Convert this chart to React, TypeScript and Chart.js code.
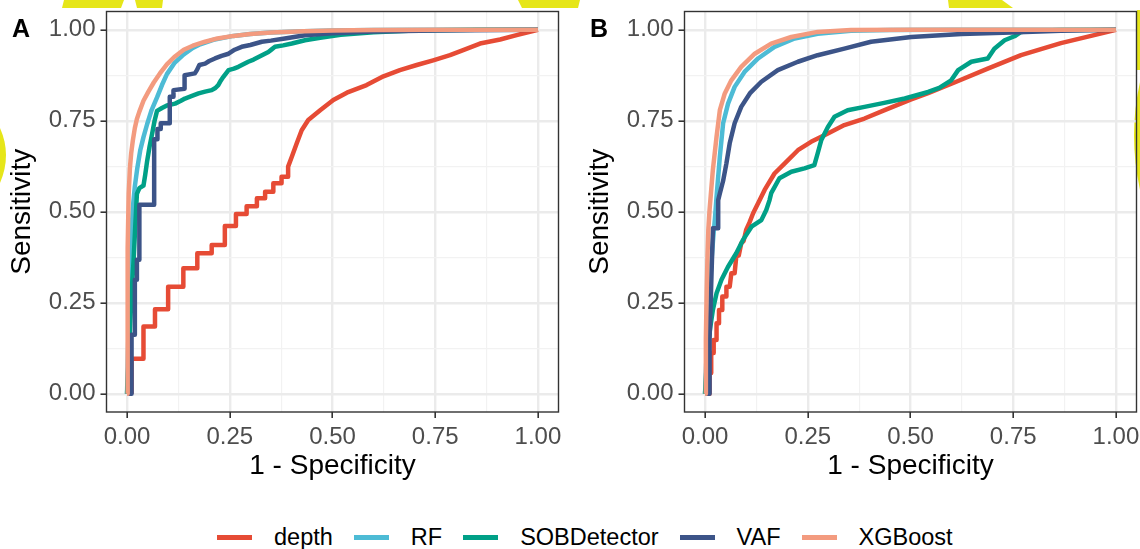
import { useEffect, useRef } from 'react';
import { Chart, registerables } from 'chart.js';

Chart.register(...registerables);

const FONT = "'Liberation Sans', Arial, Helvetica, sans-serif";

const SERIES = ['depth', 'RF', 'SOBDetector', 'VAF', 'XGBoost'];
const COLORS = ['#E64B35', '#4DBBD5', '#00A087', '#3C5488', '#F39B7F'];
const TICKS = [0, 0.25, 0.5, 0.75, 1];
const TICK_LABELS = ['0.00', '0.25', '0.50', '0.75', '1.00'];
const MINOR_TICKS = [0.125, 0.375, 0.625, 0.875];
const X_TITLE = '1 - Specificity';
const Y_TITLE = 'Sensitivity';

// ---------------- Panel A ----------------
const depthA_fpr = [0.011, 0.011, 0.040, 0.040, 0.068, 0.068, 0.100, 0.100, 0.137, 0.137, 0.171, 0.171, 0.206, 0.206, 0.238, 0.238, 0.265, 0.265, 0.291, 0.291, 0.316, 0.316, 0.336, 0.336, 0.356, 0.356, 0.376, 0.376, 0.392, 0.392, 0.401, 0.413, 0.425, 0.441, 0.470, 0.502, 0.535, 0.583, 0.624, 0.664, 0.705, 0.745, 0.786, 0.818, 0.859, 0.908, 0.948, 1.0];
const depthA_tpr = [0, 0.096, 0.096, 0.185, 0.185, 0.232, 0.232, 0.294, 0.294, 0.345, 0.345, 0.386, 0.386, 0.409, 0.409, 0.461, 0.461, 0.494, 0.494, 0.515, 0.515, 0.537, 0.537, 0.555, 0.555, 0.578, 0.578, 0.596, 0.596, 0.624, 0.651, 0.688, 0.724, 0.752, 0.779, 0.807, 0.827, 0.848, 0.872, 0.889, 0.903, 0.916, 0.930, 0.944, 0.962, 0.973, 0.985, 1.0];

const rfA_fpr = [0, 0.003, 0.006, 0.010, 0.014, 0.019, 0.025, 0.032, 0.040, 0.049, 0.060, 0.073, 0.085, 0.097, 0.115, 0.138, 0.160, 0.178, 0.210, 0.259, 0.300, 0.350, 0.430, 0.500, 0.600, 0.750, 1.0];
const rfA_tpr = [0, 0.15, 0.30, 0.42, 0.51, 0.57, 0.62, 0.668, 0.705, 0.741, 0.780, 0.814, 0.848, 0.878, 0.908, 0.932, 0.950, 0.960, 0.972, 0.983, 0.988, 0.992, 0.996, 0.998, 0.999, 1.0, 1.0];

const sobA_fpr = [0, 0.004, 0.008, 0.012, 0.016, 0.020, 0.024, 0.030, 0.040, 0.044, 0.049, 0.055, 0.061, 0.067, 0.073, 0.085, 0.097, 0.117, 0.130, 0.141, 0.158, 0.174, 0.190, 0.206, 0.215, 0.222, 0.228, 0.234, 0.247, 0.260, 0.271, 0.283, 0.295, 0.308, 0.320, 0.332, 0.344, 0.352, 0.360, 0.380, 0.401, 0.433, 0.470, 0.520, 0.600, 0.700, 0.850, 1.0];
const sobA_tpr = [0, 0.10, 0.20, 0.294, 0.367, 0.46, 0.549, 0.565, 0.572, 0.60, 0.640, 0.68, 0.714, 0.75, 0.777, 0.785, 0.792, 0.797, 0.804, 0.811, 0.818, 0.825, 0.830, 0.834, 0.840, 0.848, 0.860, 0.870, 0.889, 0.893, 0.898, 0.905, 0.912, 0.918, 0.925, 0.932, 0.939, 0.946, 0.953, 0.957, 0.962, 0.971, 0.978, 0.986, 0.993, 0.998, 1.0, 1.0];

const vafA_fpr = [0.003, 0.011, 0.011, 0.019, 0.019, 0.024, 0.024, 0.030, 0.030, 0.066, 0.066, 0.074, 0.074, 0.082, 0.082, 0.104, 0.104, 0.113, 0.113, 0.140, 0.140, 0.165, 0.170, 0.176, 0.190, 0.200, 0.214, 0.230, 0.247, 0.262, 0.279, 0.300, 0.328, 0.350, 0.384, 0.433, 0.500, 0.600, 0.750, 1.0];
const vafA_tpr = [0, 0, 0.162, 0.162, 0.313, 0.313, 0.368, 0.368, 0.519, 0.519, 0.699, 0.699, 0.727, 0.727, 0.743, 0.743, 0.816, 0.816, 0.834, 0.838, 0.875, 0.880, 0.889, 0.903, 0.907, 0.914, 0.921, 0.928, 0.934, 0.945, 0.953, 0.958, 0.967, 0.970, 0.976, 0.985, 0.990, 0.995, 0.998, 1.0];

const xgbA_fpr = [0, 0.001, 0.002, 0.004, 0.007, 0.010, 0.014, 0.019, 0.024, 0.030, 0.040, 0.052, 0.065, 0.080, 0.097, 0.115, 0.138, 0.160, 0.190, 0.220, 0.259, 0.300, 0.350, 0.430, 0.500, 0.600, 0.750, 1.0];
const xgbA_tpr = [0, 0.20, 0.40, 0.55, 0.62, 0.66, 0.695, 0.730, 0.755, 0.775, 0.805, 0.830, 0.855, 0.880, 0.905, 0.925, 0.945, 0.956, 0.967, 0.976, 0.983, 0.988, 0.992, 0.996, 0.998, 0.999, 1.0, 1.0];

// ---------------- Panel B ----------------
const depthB_fpr = [0.005, 0.011, 0.011, 0.015, 0.015, 0.021, 0.021, 0.028, 0.028, 0.034, 0.034, 0.042, 0.042, 0.052, 0.052, 0.060, 0.064, 0.072, 0.076, 0.082, 0.088, 0.094, 0.100, 0.108, 0.117, 0.133, 0.145, 0.169, 0.194, 0.226, 0.258, 0.299, 0.339, 0.388, 0.437, 0.500, 0.543, 0.607, 0.688, 0.769, 0.866, 0.947, 1.0];
const depthB_tpr = [0, 0, 0.057, 0.057, 0.112, 0.112, 0.148, 0.148, 0.194, 0.194, 0.230, 0.230, 0.267, 0.267, 0.294, 0.294, 0.331, 0.331, 0.377, 0.380, 0.413, 0.420, 0.450, 0.470, 0.496, 0.532, 0.560, 0.605, 0.633, 0.669, 0.692, 0.715, 0.738, 0.756, 0.779, 0.808, 0.826, 0.855, 0.893, 0.930, 0.963, 0.985, 1.0];

const rfB_fpr = [0, 0.004, 0.008, 0.012, 0.016, 0.020, 0.024, 0.028, 0.036, 0.044, 0.056, 0.072, 0.096, 0.129, 0.169, 0.218, 0.274, 0.355, 0.450, 0.600, 1.0];
const rfB_tpr = [0, 0.12, 0.22, 0.30, 0.37, 0.43, 0.48, 0.541, 0.651, 0.743, 0.797, 0.843, 0.884, 0.921, 0.953, 0.976, 0.989, 0.997, 0.999, 1.0, 1.0];

const sobB_fpr = [0, 0.005, 0.010, 0.015, 0.019, 0.028, 0.040, 0.056, 0.076, 0.092, 0.113, 0.137, 0.149, 0.157, 0.161, 0.181, 0.210, 0.242, 0.266, 0.274, 0.283, 0.299, 0.315, 0.347, 0.388, 0.436, 0.486, 0.543, 0.570, 0.599, 0.616, 0.648, 0.688, 0.704, 0.729, 0.753, 0.769, 0.800, 0.866, 1.0];
const sobB_tpr = [0, 0.10, 0.16, 0.20, 0.230, 0.276, 0.313, 0.349, 0.386, 0.422, 0.459, 0.477, 0.505, 0.532, 0.551, 0.592, 0.610, 0.619, 0.628, 0.660, 0.697, 0.733, 0.761, 0.779, 0.788, 0.799, 0.811, 0.829, 0.840, 0.861, 0.889, 0.912, 0.921, 0.948, 0.971, 0.982, 0.994, 0.997, 0.999, 1.0];

const vafB_fpr = [0, 0.011, 0.011, 0.015, 0.019, 0.019, 0.032, 0.032, 0.036, 0.044, 0.052, 0.060, 0.072, 0.088, 0.109, 0.137, 0.177, 0.226, 0.274, 0.339, 0.404, 0.502, 0.624, 0.745, 0.866, 1.0];
const vafB_tpr = [0, 0, 0.148, 0.30, 0.450, 0.455, 0.455, 0.532, 0.550, 0.585, 0.633, 0.688, 0.743, 0.788, 0.825, 0.857, 0.889, 0.912, 0.930, 0.948, 0.967, 0.980, 0.988, 0.992, 0.997, 1.0];

const xgbB_fpr = [0, 0.002, 0.004, 0.006, 0.008, 0.011, 0.019, 0.028, 0.036, 0.048, 0.064, 0.088, 0.121, 0.161, 0.210, 0.274, 0.355, 0.500, 1.0];
const xgbB_tpr = [0, 0.15, 0.28, 0.38, 0.45, 0.505, 0.615, 0.706, 0.779, 0.825, 0.861, 0.898, 0.934, 0.962, 0.980, 0.994, 0.999, 1.0, 1.0];

const PANEL_A_FPR = [depthA_fpr, rfA_fpr, sobA_fpr, vafA_fpr, xgbA_fpr];
const PANEL_A_TPR = [depthA_tpr, rfA_tpr, sobA_tpr, vafA_tpr, xgbA_tpr];
const PANEL_B_FPR = [depthB_fpr, rfB_fpr, sobB_fpr, vafB_fpr, xgbB_fpr];
const PANEL_B_TPR = [depthB_tpr, rfB_tpr, sobB_tpr, vafB_tpr, xgbB_tpr];

const ALL_TICKS = [...TICKS, ...MINOR_TICKS].sort((a, b) => a - b);
const majorIndex = (v: number) => TICKS.findIndex((t) => Math.abs(t - v) < 1e-9);

function axisOptions(isX: boolean) {
  return {
    type: 'linear' as const,
    min: -0.05,
    max: 1.05,
    afterBuildTicks: (scale: any) => {
      scale.ticks = ALL_TICKS.map((v) => ({ value: v }));
    },
    afterFit: (scale: any) => {
      if (isX) scale.height = 71;
      else scale.width = 106.5;
      scale.paddingTop = 0;
      scale.paddingBottom = 0;
      scale.paddingLeft = 0;
      scale.paddingRight = 0;
    },
    ticks: {
      autoSkip: false,
      maxRotation: 0,
      minRotation: 0,
      padding: 5,
      color: '#4D4D4D',
      font: { family: FONT, size: 24 },
      callback: (v: any) => {
        const i = majorIndex(Number(v));
        return i >= 0 ? TICK_LABELS[i] : '';
      },
    },
    grid: {
      color: (ctx: any) => (majorIndex(ctx.tick?.value) >= 0 ? '#EBEBEB' : '#F2F2F2'),
      lineWidth: (ctx: any) => (majorIndex(ctx.tick?.value) >= 0 ? 2.4 : 1.2),
      tickColor: (ctx: any) => (majorIndex(ctx.tick?.value) >= 0 ? '#333333' : 'rgba(0,0,0,0)'),
      tickLength: 6,
      tickWidth: 1.6,
      drawTicks: true,
    },
    border: { display: false },
    title: {
      display: true,
      text: isX ? X_TITLE : Y_TITLE,
      color: '#000000',
      font: { family: FONT, size: 28 },
      padding: isX ? { top: 0, bottom: 0 } : { top: 5.5, bottom: 0 },
    },
  };
}

function RocPanel({ tag, left, fpr, tpr }: { tag: string; left: number; fpr: number[][]; tpr: number[][] }) {
  const ref = useRef<HTMLCanvasElement | null>(null);
  useEffect(() => {
    if (!ref.current) return;
    const framePlugin = {
      id: 'frameAndTag',
      afterDatasetsDraw(chart: any) {
        const { ctx, chartArea } = chart;
        ctx.save();
        ctx.strokeStyle = '#333333';
        ctx.lineWidth = 1.4;
        ctx.strokeRect(chartArea.left, chartArea.top, chartArea.right - chartArea.left, chartArea.bottom - chartArea.top);
        ctx.restore();
      },
      afterDraw(chart: any) {
        const { ctx } = chart;
        ctx.save();
        ctx.fillStyle = '#000000';
        ctx.font = `bold 25px ${FONT}`;
        ctx.textAlign = 'left';
        ctx.textBaseline = 'alphabetic';
        ctx.fillText(tag, 12, 37);
        ctx.restore();
      },
    };
    const chart = new Chart(ref.current, {
      type: 'line',
      data: {
        datasets: SERIES.map((name, i) => ({
          label: name,
          data: fpr[i].map((x, j) => ({ x, y: tpr[i][j] })),
          borderColor: COLORS[i],
          backgroundColor: COLORS[i],
          borderWidth: 4.5,
          pointRadius: 0,
          pointHoverRadius: 0,
          fill: false,
          tension: 0,
          borderCapStyle: 'butt',
          borderJoinStyle: 'round',
          order: SERIES.length - 1 - i,
        })),
      },
      options: {
        animation: false,
        responsive: false,
        maintainAspectRatio: false,
        events: [],
        parsing: false,
        layout: { padding: { left: 0, top: 11.5, right: 3.5, bottom: 7 } },
        plugins: { legend: { display: false }, tooltip: { enabled: false } },
        scales: { x: axisOptions(true), y: axisOptions(false) },
      } as any,
      plugins: [framePlugin],
    });
    return () => chart.destroy();
  }, []);
  return (
    <canvas
      ref={ref}
      width={562}
      height={490}
      style={{ position: 'absolute', left, top: 0, width: 562, height: 490 }}
    />
  );
}

function Legend() {
  return (
    <div
      style={{
        position: 'absolute',
        left: 217,
        top: 522,
        height: 30,
        display: 'flex',
        alignItems: 'center',
        fontFamily: FONT,
        fontSize: 23.5,
        color: '#000',
        whiteSpace: 'nowrap',
      }}
    >
      {SERIES.map((name, i) => (
        <div key={name} style={{ display: 'flex', alignItems: 'center', marginRight: 21 }}>
          <div style={{ width: 35, height: 5, background: COLORS[i], marginRight: 22 }} />
          <span style={{ lineHeight: '30px' }}>{name}</span>
        </div>
      ))}
    </div>
  );
}

function Decor() {
  const Y = '#E6E619';
  return (
    <svg width={1140} height={549} style={{ position: 'absolute', left: 0, top: 0 }}>
      <polygon points="64,0 124,0 121,8 62,8" fill={Y} />
      <polygon points="135,0 163,0 162,8 137,8" fill={Y} />
      <polygon points="518,0 580,0 578,8 522,8" fill={Y} />
      <polygon points="948,0 1002,0 1013,8 949,8" fill={Y} />
      <path d="M0,128 Q12,155 0,183 Z" fill={Y} />
      <polygon points="1137,10 1140,10 1140,70 1137,70" fill={Y} />
      <path d="M1140,82 Q1128,135 1140,190 Z" fill={Y} />
    </svg>
  );
}

export default function App() {
  return (
    <div
      style={{
        position: 'absolute',
        left: 0,
        top: 0,
        width: 1140,
        height: 549,
        overflow: 'hidden',
        background: '#ffffff',
      }}
    >
      <Decor />
      <RocPanel tag="A" left={0} fpr={PANEL_A_FPR} tpr={PANEL_A_TPR} />
      <RocPanel tag="B" left={578} fpr={PANEL_B_FPR} tpr={PANEL_B_TPR} />
      <Legend />
    </div>
  );
}
